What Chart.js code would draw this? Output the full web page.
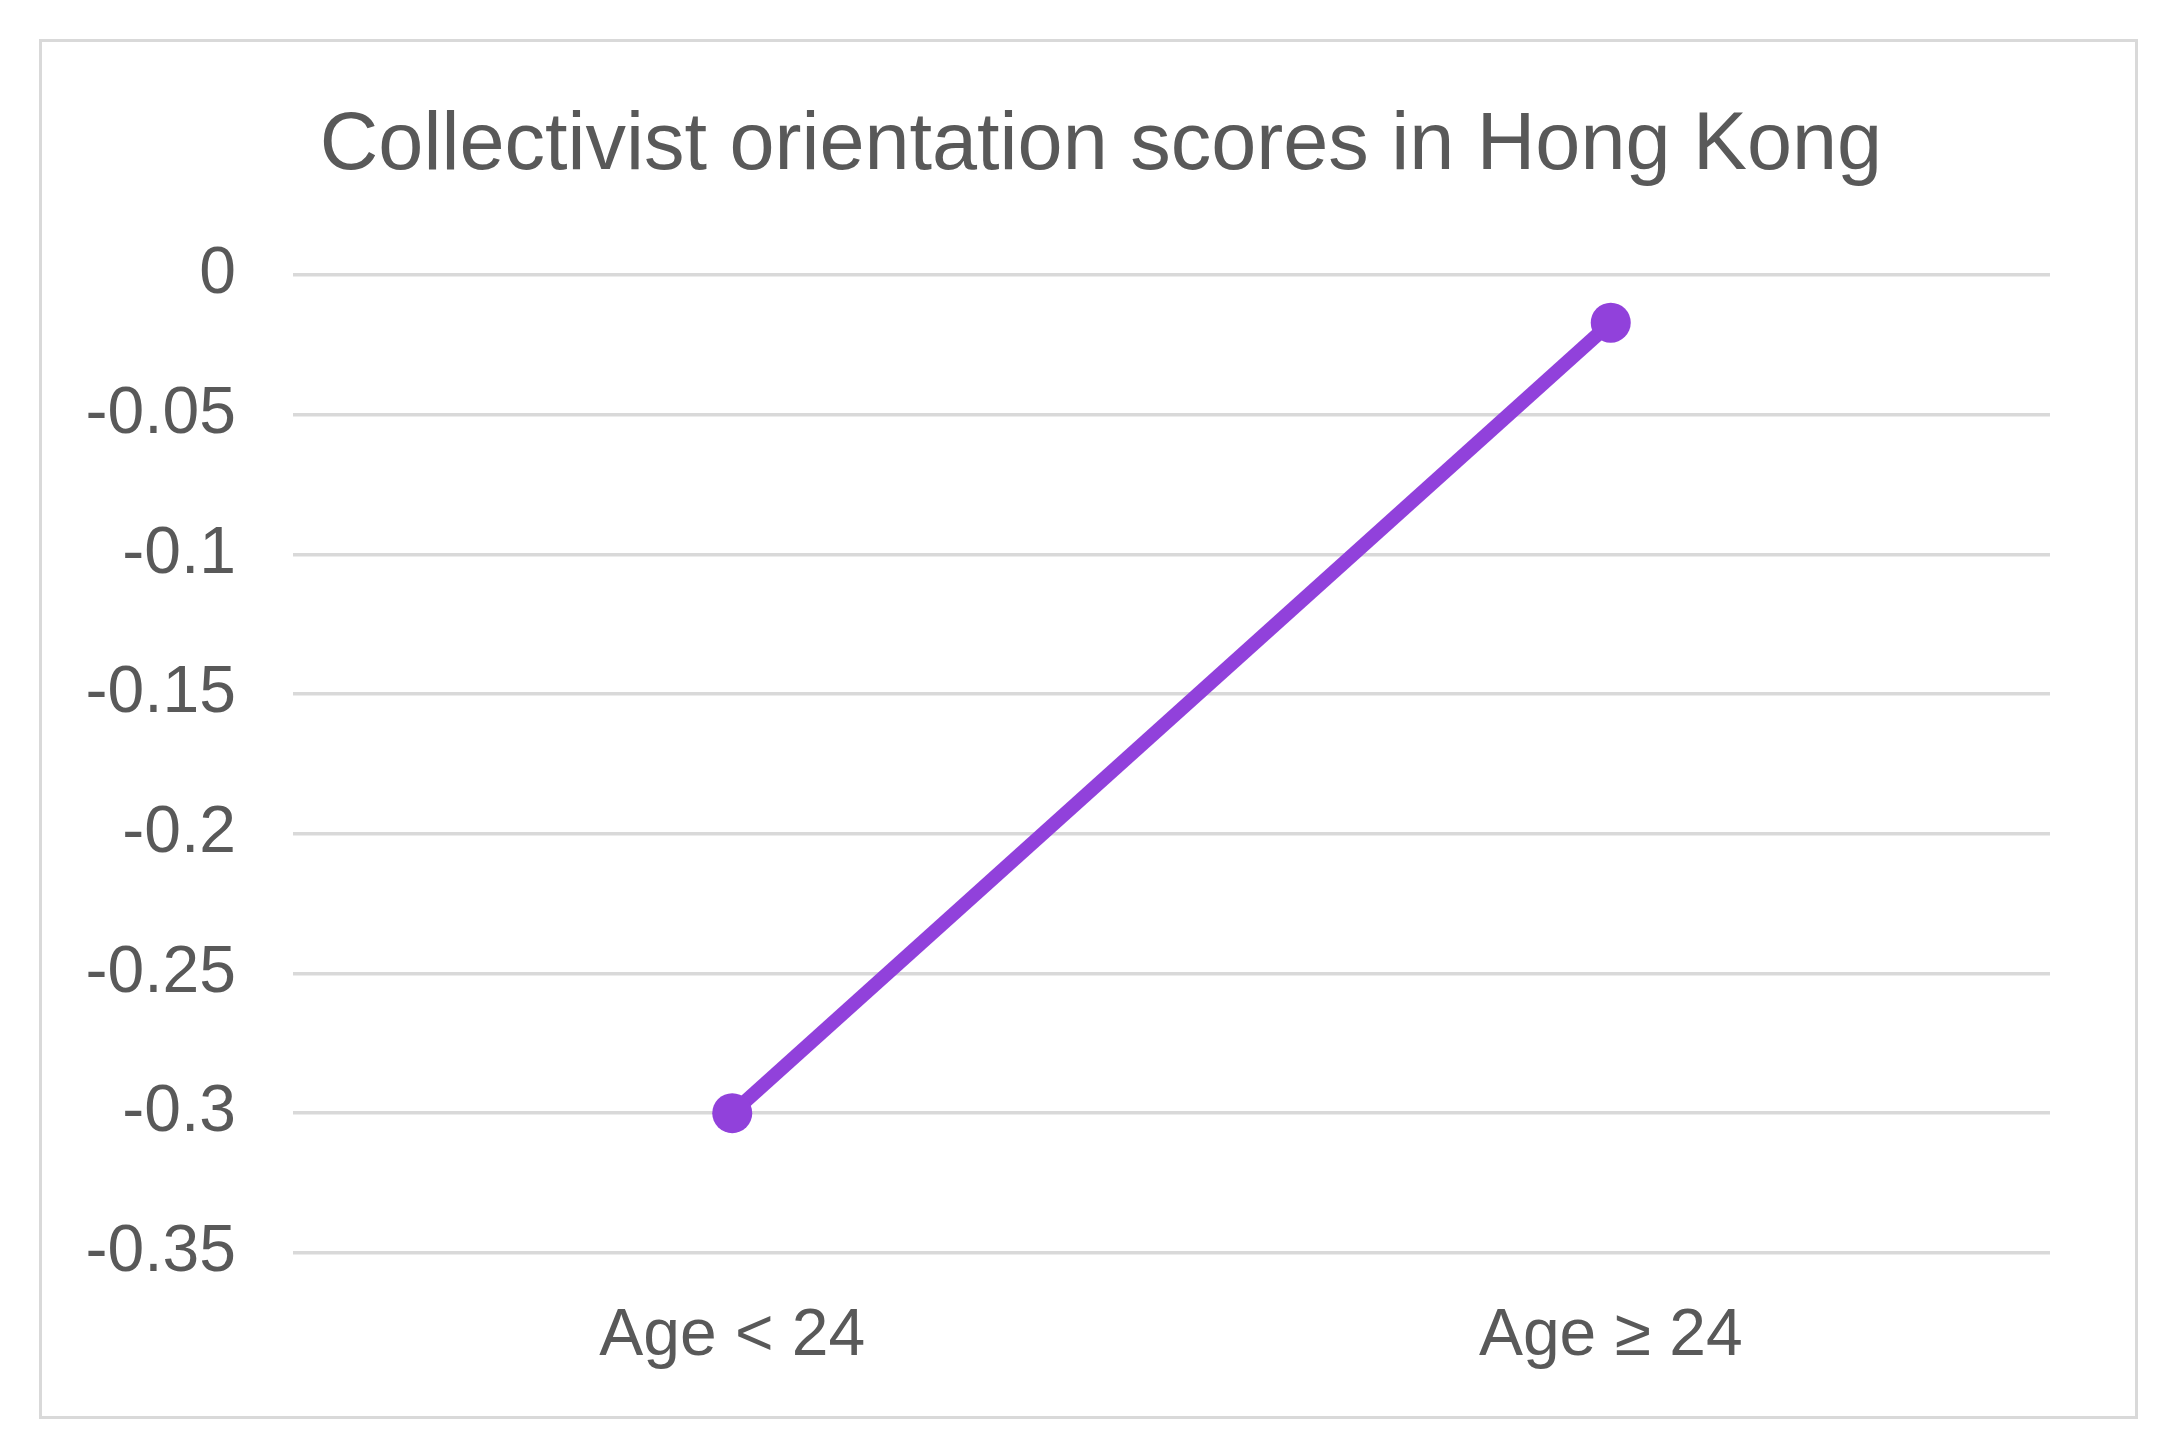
<!DOCTYPE html>
<html>
<head>
<meta charset="utf-8">
<script src="https://cdn.jsdelivr.net/npm/chart.js@4.4.0/dist/chart.umd.min.js"></script>
<style>
    html, body { margin: 0; padding: 0; background: #ffffff; }
    #frame {
        position: absolute; left: 39px; top: 39px;
        width: 2093px; height: 1374px;
        border: 3px solid #d9d9d9;
    }
    #ageChart { position: absolute; left: 0; top: 0; }
</style>
</head>
<body>
<div id="frame"></div>
<canvas id="ageChart" width="2175" height="1455"></canvas>
<script>
    // Collectivist orientation, by age group
    const ageGroups = ['Age < 24', 'Age \u2265 24'];
    const scores = [-0.30, -0.017];
    const yTicks = [0, -0.05, -0.1, -0.15, -0.2, -0.25, -0.3, -0.35];

    const textColor = '#595959';
    const lineColor = '#9141db';

    const ctx = document.getElementById('ageChart').getContext('2d');

    // the original title sits a bit right of the canvas centre
    const titleShift = {
        id: 'titleShift',
        afterLayout: function(chart) {
            if (chart.titleBlock) chart.titleBlock.left = 152;
        }
    };

    new Chart(ctx, {
        type: 'line',
        data: {
            labels: ageGroups,
            datasets: [{
                label: 'Collectivist orientation',
                data: scores,
                borderColor: lineColor,
                backgroundColor: lineColor,
                borderWidth: 14,
                pointRadius: 20,
                pointHoverRadius: 20,
                pointBackgroundColor: lineColor,
                pointBorderWidth: 0,
                fill: false,
                tension: 0
            }]
        },
        options: {
            responsive: false,
            animation: false,
            layout: {
                padding: { left: 0, right: 125, top: 0, bottom: 35 }
            },
            plugins: {
                legend: { display: false },
                tooltip: { enabled: false },
                title: {
                    display: true,
                    text: 'Collectivist orientation scores in Hong Kong',
                    color: textColor,
                    font: { family: '"Liberation Sans", Arial, sans-serif', size: 81, weight: 'normal', lineHeight: 1.2 },
                    padding: { top: 98, bottom: 80 }
                }
            },
            scales: {
                y: {
                    min: Math.min(...yTicks),
                    max: Math.max(...yTicks),
                    afterBuildTicks: function(scale) {
                        scale.ticks = yTicks.map(v => ({ value: v }));
                    },
                    afterFit: function(scale) {
                        scale.width = 293;
                    },
                    grid: {
                        color: '#d9d9d9',
                        lineWidth: 3.5,
                        drawTicks: false
                    },
                    border: { display: false },
                    ticks: {
                        padding: 57,
                        color: textColor,
                        font: { family: '"Liberation Sans", Arial, sans-serif', size: 66 },
                        callback: function(value) {
                            return String(Math.round(value * 100) / 100);
                        }
                    }
                },
                x: {
                    offset: true,
                    grid: { display: false, drawTicks: false },
                    border: { display: false },
                    ticks: {
                        padding: 44,
                        color: textColor,
                        font: { family: '"Liberation Sans", Arial, sans-serif', size: 66 }
                    }
                }
            }
        },
        plugins: [titleShift]
    });
</script>
</body>
</html>
